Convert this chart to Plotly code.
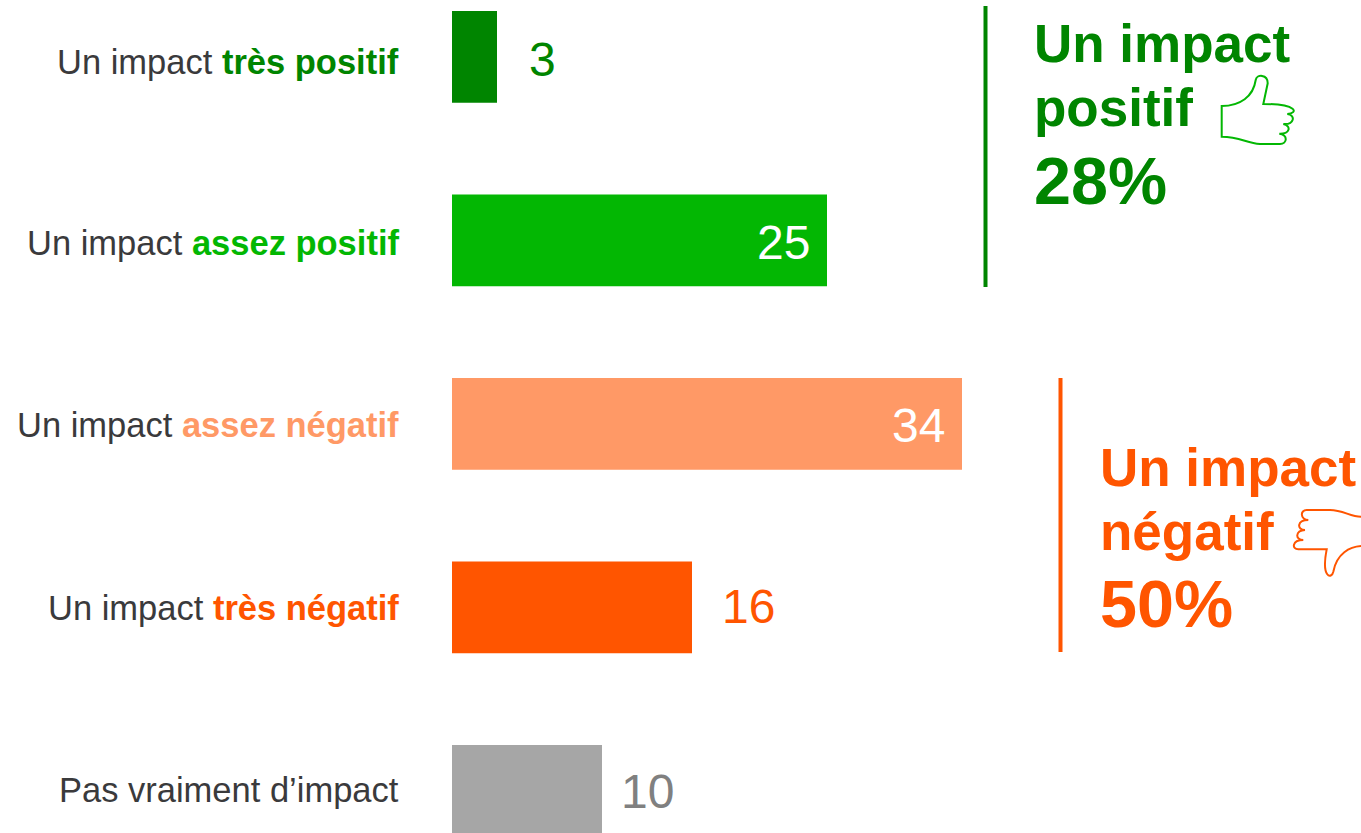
import plotly.graph_objects as go

categories = ["Un impact très positif", "Un impact assez positif", "Un impact assez négatif",
              "Un impact très négatif", "Pas vraiment d’impact"]
label_plain = ["Un impact ", "Un impact ", "Un impact ", "Un impact ", "Pas vraiment d’impact"]
label_bold = ["très positif", "assez positif", "assez négatif", "très négatif", ""]
values = [3, 25, 34, 16, 10]
bar_colors = ["#008500", "#03B703", "#FF9966", "#FF5500", "#A6A6A6"]
value_colors = ["#008500", "#FFFFFF", "#FFFFFF", "#FF5500", "#808080"]
value_inside = [False, True, True, False, False]
value_shift = [30, -15, -15, 28, 17]
value_nudge = [2, 2, 1, -1, 0]
label_nudge = [5, 2, 1, 0, -1]

W, H = 1361, 833
LEFT = 452
PX = 15.0
CENTER0, STEP = 57.0, 183.5
TEXT = "#3A3A3C"
FONT = "Liberation Sans, Arial, sans-serif"
GREEN, LIME, ORANGE = "#008500", "#03B703", "#FF5500"

fig = go.Figure(go.Bar(
    x=values, y=categories, orientation="h", width=0.5,
    marker=dict(color=bar_colors, line=dict(width=0)), hoverinfo="skip"))

annotations = []
for cat, plain, bold, col, nudge in zip(categories, label_plain, label_bold, bar_colors, label_nudge):
    txt = plain + (f'<span style="color:{col}"><b>{bold}</b></span>' if bold else "")
    annotations.append(dict(x=0, y=cat, xref="x", yref="y", text=txt, showarrow=False,
                            xanchor="right", yanchor="middle", xshift=-51, yshift=-nudge,
                            font=dict(family=FONT, size=34.5, color=TEXT)))
for cat, v, col, inside, shift, nudge in zip(categories, values, value_colors, value_inside, value_shift, value_nudge):
    annotations.append(dict(x=v, y=cat, xref="x", yref="y", text=str(v), showarrow=False,
                            xanchor="right" if inside else "left", yanchor="middle",
                            xshift=shift, yshift=-nudge,
                            font=dict(family=FONT, size=48, color=col)))

def big(text, px, py, size, color):
    annotations.append(dict(x=(px - LEFT) / PX, y=1 - py / H, xref="x", yref="paper", text=f"<b>{text}</b>",
                            showarrow=False, xanchor="left", yanchor="middle",
                            font=dict(family=FONT, size=size, color=color)))

big("Un impact", 1032, 44, 53, GREEN)
big("positif", 1032, 108, 53, GREEN)
big("28%", 1032, 181, 66.5, GREEN)
big("Un impact", 1098, 467, 53, ORANGE)
big("négatif", 1098, 531, 53, ORANGE)
big("50%", 1098, 604, 66.5, ORANGE)

def icon(points):
    d = ""
    for cmd, pts in points:
        d += cmd + " ".join(f"{x - LEFT:.1f},{-y:.1f}" for x, y in pts) + " "
    return d

def up(x, y):
    return (1000 + x / 3, y / 3)

def down(x, y):
    return (1050 + x / 3, 430 + y / 3)

thumb_up = [
    ("M", [up(665, 318)]),
    ("C", [up(720, 318), up(760, 290), up(767, 240)]),
    ("C", [up(770, 222), up(803, 222), up(803, 250)]),
    ("L", [up(790, 312), up(875, 312)]),
    ("C", [up(895, 312), up(895, 340), up(862, 342)]),
    ("C", [up(888, 345), up(883, 375), up(850, 372)]),
    ("C", [up(875, 378), up(870, 402), up(838, 401)]),
    ("C", [up(865, 405), up(862, 432), up(840, 432)]),
    ("L", [up(780, 432)]),
    ("C", [up(740, 430), up(720, 410), up(665, 410)]),
    ("Z", []),
]
thumb_down = [
    ("M", [down(933, 260)]),
    ("C", [down(900, 260), down(880, 240), down(840, 240)]),
    ("L", [down(770, 240)]),
    ("C", [down(750, 240), down(750, 268), down(775, 270)]),
    ("C", [down(740, 270), down(740, 300), down(765, 300)]),
    ("C", [down(735, 302), down(735, 330), down(760, 330)]),
    ("C", [down(725, 330), down(725, 358), down(745, 358)]),
    ("L", [down(830, 358), down(815, 425)]),
    ("C", [down(813, 445), down(845, 448), down(850, 425)]),
    ("C", [down(860, 370), down(900, 350), down(933, 348)]),
]

shapes = [
    dict(type="line", xref="x", yref="paper", x0=(985.5 - LEFT) / PX, x1=(985.5 - LEFT) / PX,
         y0=1 - 6 / H, y1=1 - 287 / H, line=dict(color=GREEN, width=4)),
    dict(type="line", xref="x", yref="paper", x0=(1060.5 - LEFT) / PX, x1=(1060.5 - LEFT) / PX,
         y0=1 - 378 / H, y1=1 - 652 / H, line=dict(color=ORANGE, width=4)),
]
for pts, col in ((thumb_up, LIME), (thumb_down, ORANGE)):
    shapes.append(dict(type="path", xsizemode="pixel", ysizemode="pixel", xref="x", yref="paper",
                       xanchor=0, yanchor=1, path=icon(pts), line=dict(color=col, width=2)))

fig.update_layout(
    width=W, height=H, margin=dict(l=LEFT, r=0, t=0, b=0, autoexpand=False),
    paper_bgcolor="white", plot_bgcolor="white", showlegend=False,
    xaxis=dict(range=[0, (W - LEFT) / PX], visible=False, fixedrange=True),
    yaxis=dict(type="category", categoryorder="array", categoryarray=categories,
               range=[(H - CENTER0) / STEP, -CENTER0 / STEP], visible=False, fixedrange=True),
    annotations=annotations, shapes=shapes,
)

fig.write_html("out.html", config={"displayModeBar": False},
               post_script="document.body.style.margin='0';document.body.style.overflow='hidden';")
